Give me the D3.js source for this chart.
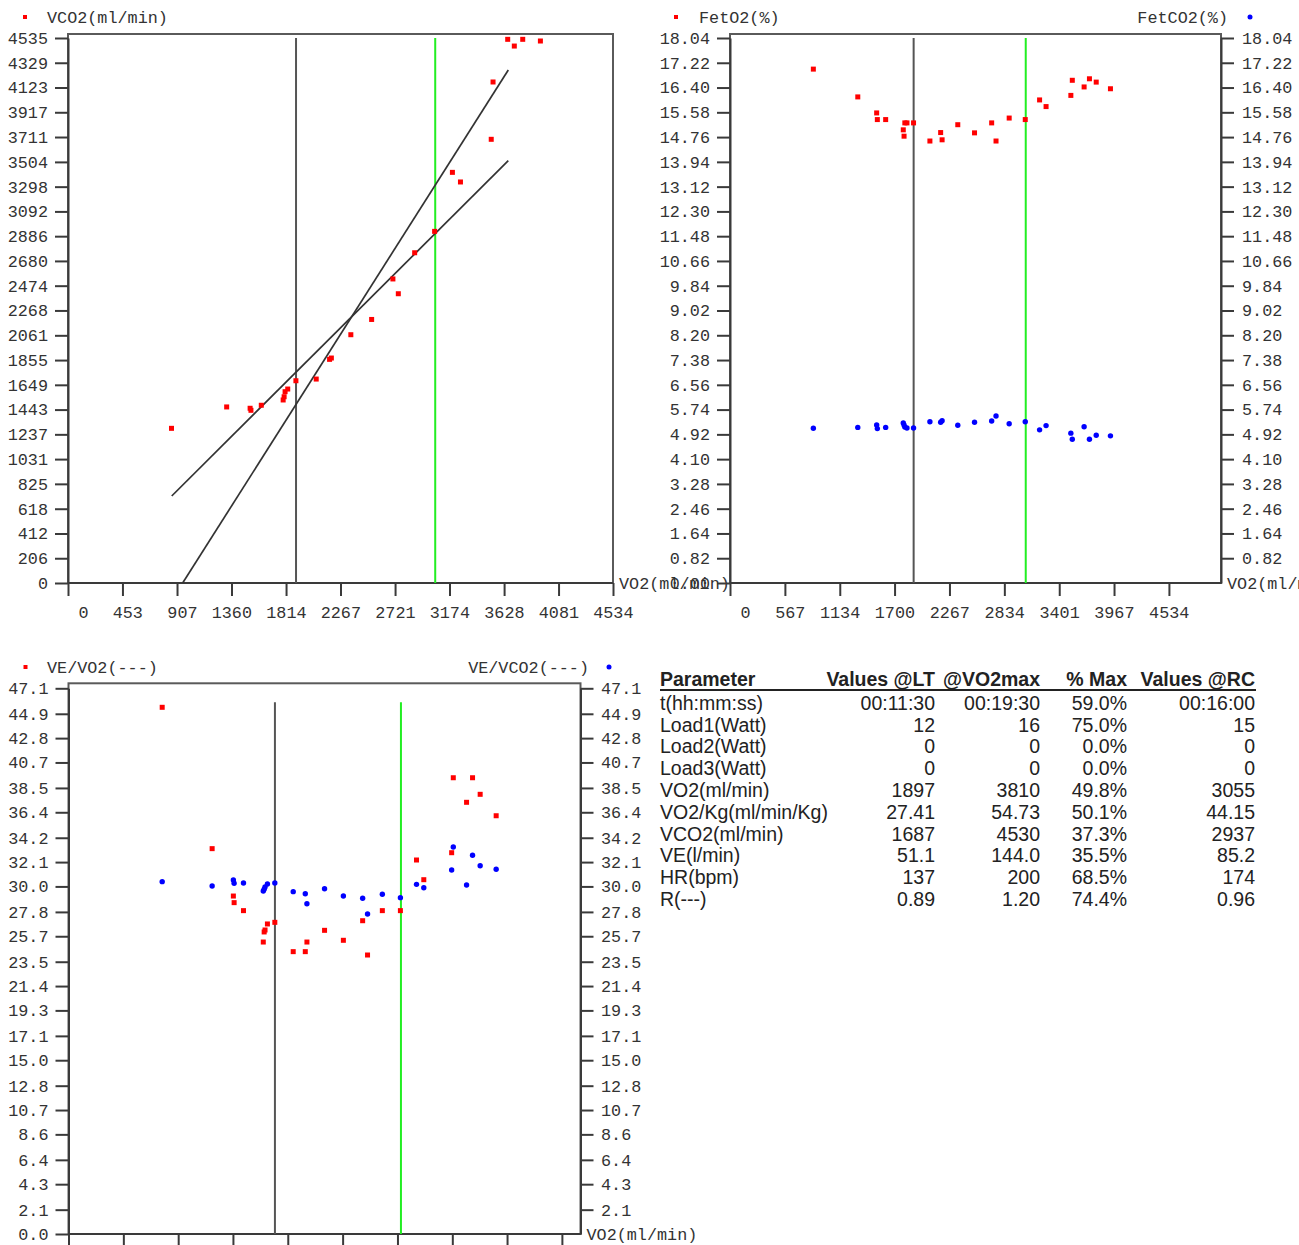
<!DOCTYPE html>
<html>
<head>
<meta charset="utf-8">
<script src="https://cdn.jsdelivr.net/npm/d3@7"></script>
<style>
  body { margin: 0; background: #ffffff; }
  svg { display: block; }
</style>
</head>
<body>
<svg id="chart" width="1299" height="1245"></svg>
<script>
// ---------------- DATA ----------------
const vo2      = [861, 1320, 1515, 1522, 1608, 1790, 1798, 1806, 1828, 1896, 2065, 2176, 2191, 2353, 2526, 2703, 2748, 2884, 3050, 3198, 3265, 3521, 3536, 3658, 3713, 3783, 3930];
const vco2     = [1287, 1465, 1454, 1437, 1479, 1523, 1550, 1592, 1614, 1683, 1697, 1861, 1872, 2066, 2193, 2530, 2407, 2748, 2926, 3417, 3337, 3692, 4169, 4524, 4468, 4524, 4510];
const fetO2    = [17.01, 16.09, 15.56, 15.34, 15.34, 15.00, 14.79, 15.23, 15.23, 15.23, 14.63, 14.91, 14.67, 15.17, 14.90, 15.23, 14.63, 15.39, 15.34, 15.99, 15.77, 16.14, 16.64, 16.42, 16.69, 16.58, 16.36];
const fetCO2   = [5.12, 5.15, 5.23, 5.11, 5.15, 5.30, 5.23, 5.16, 5.13, 5.13, 5.34, 5.32, 5.37, 5.22, 5.32, 5.36, 5.53, 5.27, 5.34, 5.07, 5.21, 4.96, 4.76, 5.17, 4.76, 4.89, 4.87];
const veVo2    = [45.46, 33.26, 29.17, 28.60, 27.91, 25.20, 26.07, 26.24, 26.76, 26.90, 24.37, 24.37, 25.20, 26.21, 25.35, 27.04, 24.08, 27.91, 27.91, 32.28, 30.58, 32.91, 39.38, 37.26, 39.38, 37.95, 36.10];
const veVco2   = [30.41, 30.04, 30.55, 30.27, 30.30, 29.60, 29.75, 29.95, 30.21, 30.30, 29.55, 29.37, 28.51, 29.80, 29.17, 28.98, 27.62, 29.32, 29.03, 30.18, 29.89, 31.42, 33.40, 30.12, 32.69, 31.79, 31.48];

const ltVO2 = 1897;   // LT marker (grey)
const rcVO2 = 3055;   // RC marker (green)

// regression lines in the V-slope plot (VO2, VCO2)
const slopeLine1 = [[863, 724], [3663, 3514]];
const slopeLine2 = [[954, 0], [3663, 4269]];

// tick labels
const vco2TickLabels = ["0","206","412","618","825","1031","1237","1443","1649","1855","2061","2268","2474","2680","2886","3092","3298","3504","3711","3917","4123","4329","4535"];
const fetTickLabels  = ["0.00","0.82","1.64","2.46","3.28","4.10","4.92","5.74","6.56","7.38","8.20","9.02","9.84","10.66","11.48","12.30","13.12","13.94","14.76","15.58","16.40","17.22","18.04"];
const veTickLabels   = ["0.0","2.1","4.3","6.4","8.6","10.7","12.8","15.0","17.1","19.3","21.4","23.5","25.7","27.8","30.0","32.1","34.2","36.4","38.5","40.7","42.8","44.9","47.1"];
const vo2TickLabels1 = ["0","453","907","1360","1814","2267","2721","3174","3628","4081","4534"];
const vo2TickLabels2 = ["0","567","1134","1700","2267","2834","3401","3967","4534"];
const vo2TickValues3 = [0, 504, 1008, 1511, 2015, 2519, 3023, 3527, 4030, 4534];

// table
const tableHeader = ["Parameter", "Values @LT", "@VO2max", "% Max", "Values @RC"];
const tableParams = ["t(hh:mm:ss)","Load1(Watt)","Load2(Watt)","Load3(Watt)","VO2(ml/min)","VO2/Kg(ml/min/Kg)","VCO2(ml/min)","VE(l/min)","HR(bpm)","R(---)"];
const valuesLT    = ["00:11:30","12","0","0","1897","27.41","1687","51.1","137","0.89"];
const valuesMax   = ["00:19:30","16","0","0","3810","54.73","4530","144.0","200","1.20"];
const pctMax      = ["59.0%","75.0%","0.0%","0.0%","49.8%","50.1%","37.3%","35.5%","68.5%","74.4%"];
const valuesRC    = ["00:16:00","15","0","0","3055","44.15","2937","85.2","174","0.96"];

// ---------------- DRAWING ----------------
const svg = d3.select("#chart");
const MONO = "'Liberation Mono', 'Courier New', monospace";
const MONO_SIZE = 16.8;
const TXT = "#333";
const AX = "#3a3a3a";
const RED = "#ff0000", BLUE = "#0000ff", GREEN = "#22ee22", GREY = "#555555";

function styleAxis(g) {
  g.attr("font-family", MONO).attr("font-size", MONO_SIZE);
  g.select(".domain").attr("stroke", AX).attr("stroke-width", 2);
  g.selectAll(".tick line").attr("stroke", AX).attr("stroke-width", 2);
  g.selectAll(".tick text").attr("fill", TXT);
}

function makeChart(cfg, id) {
  const g = svg.append("g");
  const x = d3.scaleLinear().domain([0, cfg.xMax]).range([cfg.left, cfg.right]);
  const y = d3.scaleLinear().domain([0, cfg.yMax]).range([cfg.bottom, cfg.top]);

  const clipId = "clip" + id;
  svg.append("clipPath").attr("id", clipId).append("rect")
    .attr("x", cfg.left).attr("y", cfg.top - cfg.framePad)
    .attr("width", cfg.right - cfg.left).attr("height", cfg.bottom - cfg.top + cfg.framePad);

  // frame
  g.append("rect")
    .attr("x", cfg.left).attr("y", cfg.top - cfg.framePad)
    .attr("width", cfg.right - cfg.left).attr("height", cfg.bottom - cfg.top + cfg.framePad)
    .attr("fill", "none").attr("stroke", "#5a5a5a").attr("stroke-width", 2);

  // left axis
  const labMap = new Map(cfg.yLabels.map(l => [+l, l]));
  const yl = g.append("g").attr("transform", `translate(${cfg.left},0)`)
    .call(d3.axisLeft(y).tickValues(cfg.yLabels.map(Number)).tickFormat(d => labMap.get(d))
      .tickSize(13).tickPadding(7).tickSizeOuter(0));
  styleAxis(yl);

  if (cfg.rightAxis) {
    const rl = cfg.yLabels.slice(1);
    const yr = g.append("g").attr("transform", `translate(${cfg.right},0)`)
      .call(d3.axisRight(y).tickValues(rl.map(Number)).tickFormat(d => labMap.get(d))
        .tickSize(13).tickPadding(cfg.rightPad).tickSizeOuter(0));
    styleAxis(yr);
  }

  // bottom axis
  const xAxis = d3.axisBottom(x).tickValues(cfg.xTicks).tickSize(13).tickSizeOuter(0);
  if (cfg.xLabels) {
    const xm = new Map(cfg.xLabels.map(l => [+l, l]));
    xAxis.tickFormat(d => xm.get(d));
  } else {
    xAxis.tickFormat("");
  }
  const xg = g.append("g").attr("transform", `translate(0,${cfg.bottom})`).call(xAxis);
  styleAxis(xg);
  xg.selectAll(".tick text").attr("text-anchor", "end").attr("x", 20).attr("y", 29).attr("dy", "0.35em");
  xg.select(".domain").attr("d", `M${cfg.left},0H${cfg.right}`);

  // x axis title
  g.append("text").attr("x", cfg.right + 6).attr("y", cfg.bottom).attr("dy", "0.35em")
    .attr("font-family", MONO).attr("font-size", MONO_SIZE).attr("fill", TXT).text("VO2(ml/min)");

  // marker lines
  const ml = g.append("g");
  [[ltVO2, GREY], [rcVO2, GREEN]].forEach(([v, c]) => {
    ml.append("line").attr("x1", x(v)).attr("x2", x(v))
      .attr("y1", y(cfg.markerTop)).attr("y2", y(0))
      .attr("stroke", c).attr("stroke-width", 2);
  });

  return { g, x, y, clipId };
}

function squares(ch, xs, ys) {
  ch.g.append("g").selectAll("rect").data(xs).join("rect")
    .attr("x", d => ch.x(d) - 2.5).attr("y", (d, i) => ch.y(ys[i]) - 2.5)
    .attr("width", 5).attr("height", 5).attr("fill", RED);
}
function dots(ch, xs, ys) {
  ch.g.append("g").selectAll("circle").data(xs).join("circle")
    .attr("cx", d => ch.x(d)).attr("cy", (d, i) => ch.y(ys[i]))
    .attr("r", 2.7).attr("fill", BLUE);
}
function legend(xm, ym, shape, label, textX, anchor) {
  if (shape === "square") {
    svg.append("rect").attr("x", xm - 2).attr("y", ym - 2).attr("width", 4).attr("height", 4).attr("fill", RED);
  } else {
    svg.append("circle").attr("cx", xm).attr("cy", ym).attr("r", 2.5).attr("fill", BLUE);
  }
  svg.append("text").attr("x", textX).attr("y", ym).attr("dy", "0.35em")
    .attr("text-anchor", anchor).attr("font-family", MONO).attr("font-size", MONO_SIZE)
    .attr("fill", TXT).text(label);
}

// ---- Chart 1: V-slope ----
const c1 = makeChart({
  left: 68, right: 613, top: 38, bottom: 583, framePad: 4,
  xMax: 4534, yMax: 4535, yLabels: vco2TickLabels,
  xTicks: vo2TickLabels1.map(Number), xLabels: vo2TickLabels1,
  rightAxis: false, markerTop: 4535
}, 1);
const lineGen = d3.line().x(d => c1.x(d[0])).y(d => c1.y(d[1]));
[slopeLine1, slopeLine2].forEach(l => {
  c1.g.append("path").attr("d", lineGen(l)).attr("fill", "none")
    .attr("stroke", "#333").attr("stroke-width", 1.7).attr("clip-path", `url(#${c1.clipId})`);
});
squares(c1, vo2, vco2);
legend(25, 17, "square", "VCO2(ml/min)", 47, "start");

// ---- Chart 2: FetO2 / FetCO2 ----
const c2 = makeChart({
  left: 730, right: 1221, top: 38, bottom: 583, framePad: 4,
  xMax: 5072, yMax: 18.04, yLabels: fetTickLabels,
  xTicks: vo2TickLabels2.map(Number), xLabels: vo2TickLabels2,
  rightAxis: true, rightPad: 8, markerTop: 18.04
}, 2);
squares(c2, vo2, fetO2);
dots(c2, vo2, fetCO2);
legend(676, 17, "square", "FetO2(%)", 699, "start");
legend(1250, 17, "dot", "FetCO2(%)", 1228, "end");

// ---- Chart 3: VE/VO2, VE/VCO2 ----
const c3 = makeChart({
  left: 68.5, right: 580.5, top: 688.3, bottom: 1234, framePad: 5,
  xMax: 4705, yMax: 47.1, yLabels: veTickLabels,
  xTicks: vo2TickValues3, xLabels: null,
  rightAxis: true, rightPad: 7.5, markerTop: 45.9
}, 3);
squares(c3, vo2, veVo2);
dots(c3, vo2, veVco2);
legend(25.5, 667, "square", "VE/VO2(---)", 47, "start");
legend(609, 667, "dot", "VE/VCO2(---)", 589, "end");

// ---- Table ----
const colX = [660, 935, 1040, 1127, 1255];
const colAnchor = ["start", "end", "end", "end", "end"];
const SANS = "'Liberation Sans', Arial, sans-serif";
const tg = svg.append("g").attr("font-family", SANS).attr("fill", "#222");
const headerY = 679, rowY0 = 703, rowStep = 21.8;
tableHeader.forEach((h, j) => {
  tg.append("text").attr("x", colX[j]).attr("y", headerY).attr("dy", "0.35em")
    .attr("text-anchor", colAnchor[j]).attr("font-size", 19.5).attr("font-weight", "bold").text(h);
});
tg.append("line").attr("x1", 660).attr("x2", 1256).attr("y1", 690).attr("y2", 690)
  .attr("stroke", "#222").attr("stroke-width", 2);
const cols = [tableParams, valuesLT, valuesMax, pctMax, valuesRC];
tableParams.forEach((p, i) => {
  cols.forEach((col, j) => {
    tg.append("text").attr("x", colX[j]).attr("y", rowY0 + i * rowStep).attr("dy", "0.35em")
      .attr("text-anchor", colAnchor[j]).attr("font-size", 19.5).text(col[i]);
  });
});
</script>
</body>
</html>
